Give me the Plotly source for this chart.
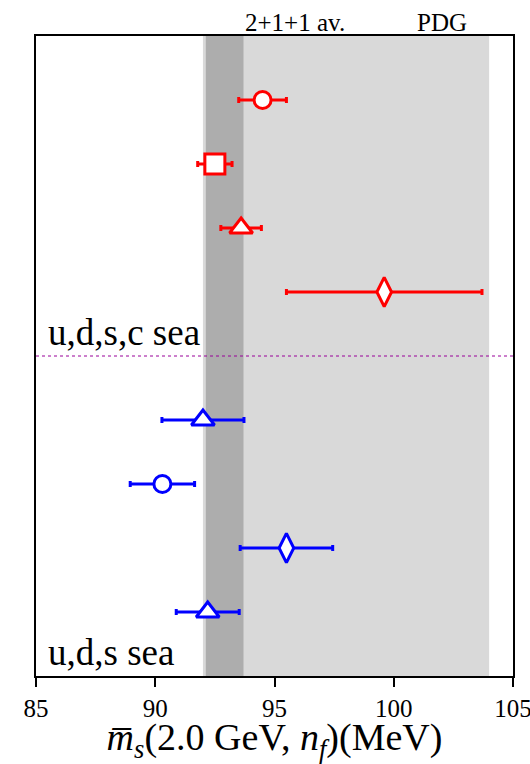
import plotly.graph_objects as go

# ---- data ----
red_vals = [94.5, 92.5, 93.6, 99.6]
red_errs = [1.0, 0.72, 0.85, 4.1]
red_pos = [1, 2, 3, 4]
red_symbols = ["circle", "square", "triangle-up", "diamond-tall"]

blue_vals = [92.0, 90.3, 95.5, 92.2]
blue_errs = [1.72, 1.35, 1.94, 1.32]
blue_pos = [6, 7, 8, 9]
blue_symbols = ["triangle-up", "circle", "diamond-tall", "triangle-up"]

pdg_band = [92.0, 104.0]
avg_band = [92.12, 93.7]
separator_pos = 5
x_ticks = [85, 90, 95, 100, 105]
x_range = [85, 105]
y_range = [10, 0]

FONT = "Liberation Serif"

SIZE_MAP = {"circle": 17, "square": 20, "triangle-up": 20, "diamond-tall": 21}

fig = go.Figure()

for vals, errs, pos, syms, col in [
    (red_vals, red_errs, red_pos, red_symbols, "#ff0000"),
    (blue_vals, blue_errs, blue_pos, blue_symbols, "#0000ff"),
]:
    fig.add_trace(go.Scatter(
        x=vals, y=pos, mode="markers",
        marker=dict(symbol=syms, size=[SIZE_MAP[s] for s in syms], opacity=1,
                    color="white", line=dict(color=col, width=3)),
        error_x=dict(type="data", array=errs, visible=True, color=col,
                     thickness=3, width=3),
        showlegend=False, cliponaxis=False, opacity=1,
    ))

# bands
fig.add_shape(type="rect", xref="x", yref="paper", x0=pdg_band[0], x1=pdg_band[1],
              y0=0, y1=1, fillcolor="#d9d9d9", line=dict(width=0), layer="below")
fig.add_shape(type="rect", xref="x", yref="paper", x0=avg_band[0], x1=avg_band[1],
              y0=0, y1=1, fillcolor="#adadad", line=dict(width=0), layer="below")
# separator
fig.add_shape(type="line", xref="paper", yref="y", x0=0, x1=1,
              y0=separator_pos, y1=separator_pos,
              line=dict(color="#990099", width=1, dash="dot"))

fig.add_annotation(text="2+1+1 av.", xref="paper", yref="paper", x=0.543, y=1,
                   xanchor="center", yanchor="bottom", yshift=-2, showarrow=False,
                   font=dict(family=FONT, size=25, color="black"))
fig.add_annotation(text="PDG", xref="paper", yref="paper", x=0.851, y=1,
                   xanchor="center", yanchor="bottom", yshift=-2, showarrow=False,
                   font=dict(family=FONT, size=25, color="black"))
fig.add_annotation(text="u,d,s,c sea", xref="paper", yref="y", x=0.02, y=4.64,
                   xanchor="left", yanchor="middle", showarrow=False,
                   font=dict(family=FONT, size=37, color="black"))
fig.add_annotation(text="u,d,s sea", xref="paper", yref="y", x=0.02, y=9.64,
                   xanchor="left", yanchor="middle", showarrow=False,
                   font=dict(family=FONT, size=37, color="black"))

fig.update_layout(
    width=530, height=764,
    margin=dict(l=36, r=17, t=36, b=88, autoexpand=False),
    plot_bgcolor="white", paper_bgcolor="white",
    font=dict(family=FONT, color="black"),
    xaxis=dict(range=x_range, tickvals=x_ticks, ticks="outside", ticklen=9,
               tickwidth=2, tickcolor="black", showgrid=False, zeroline=False,
               showline=True, linecolor="black", linewidth=2, mirror=True,
               tickfont=dict(family=FONT, size=25), ticklabeloverflow="allow",
               automargin=False,
               title=dict(text="<i>m̅<sub>s</sub></i>(2.0 GeV, <i>n<sub>f</sub></i>)(MeV)",
                          font=dict(family=FONT, size=38))),
    yaxis=dict(range=y_range, showticklabels=False, ticks="", showgrid=False,
               zeroline=False, showline=True, linecolor="black", linewidth=2,
               mirror=True, automargin=False),
)

fig.write_html("out.html")
